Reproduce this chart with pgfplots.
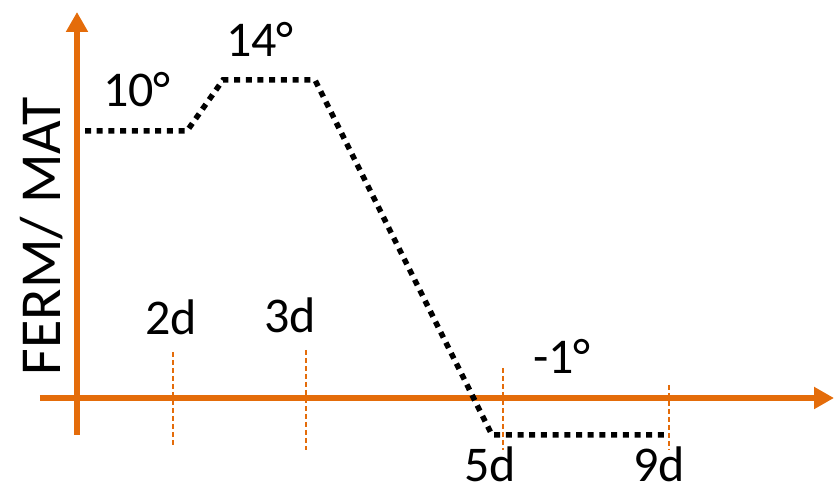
\documentclass[border=0pt]{standalone}
\usepackage{fontspec}
\setmainfont{Carlito}
\usepackage{pgfplots}
\pgfplotsset{compat=1.18}
\usetikzlibrary{arrows.meta}
\definecolor{axorange}{RGB}{228,108,10}

\begin{document}
\begin{tikzpicture}
\begin{axis}[
x=1pt,y=1pt,
xmin=-37,xmax=757,ymin=-37,ymax=386,
axis lines=middle,
enlargelimits=false,
xtick=\empty,ytick=\empty,
axis line style={axorange,line width=6.5pt,-{Triangle[length=20pt,width=21pt]}},
clip=false]
% guide ticks (dashed)
\addplot[axorange,line width=1.4pt,dash pattern=on 5pt off 3pt] coordinates {(96,46) (96,-47)};
\addplot[axorange,line width=1.4pt,dash pattern=on 5pt off 3pt] coordinates {(229,48) (229,-52)};
\addplot[axorange,line width=1.4pt,dash pattern=on 5pt off 3pt] coordinates {(426,30) (426,-52)};
\addplot[axorange,line width=1.4pt,dash pattern=on 5pt off 3pt] coordinates {(592,13) (592,-52)};
% temperature profile
\addplot[black,line width=5.5pt,dash pattern=on 6pt off 5.7pt] coordinates {
(8,267) (110,267) (146,318) (238,318) (415,-37) (588,-37)};
\begin{scope}[font=\fontsize{50}{60}\selectfont]
\node[anchor=base] at (axis cs:60,291) {10°};
\node[anchor=base] at (axis cs:183,341) {14°};
\node[anchor=base] at (axis cs:485,24) {-1°};
\node[anchor=base] at (axis cs:94,63) {2d};
\node[anchor=base] at (axis cs:213,65) {3d};
\node[anchor=base,inner sep=0pt,text depth=0pt] at (axis cs:413,-84) {5d};
\node[anchor=base,inner sep=0pt,text depth=0pt] at (axis cs:582,-84) {9d};
\end{scope}
\node[rotate=90,font=\fontsize{58}{70}\selectfont] at (axis cs:-35,162) {FERM/ MAT};
\coordinate (bl) at (axis cs:-77,-96);
\coordinate (tr) at (axis cs:757,398);
\end{axis}
\pgfresetboundingbox
\path (bl) rectangle (tr);
\end{tikzpicture}
\end{document}
